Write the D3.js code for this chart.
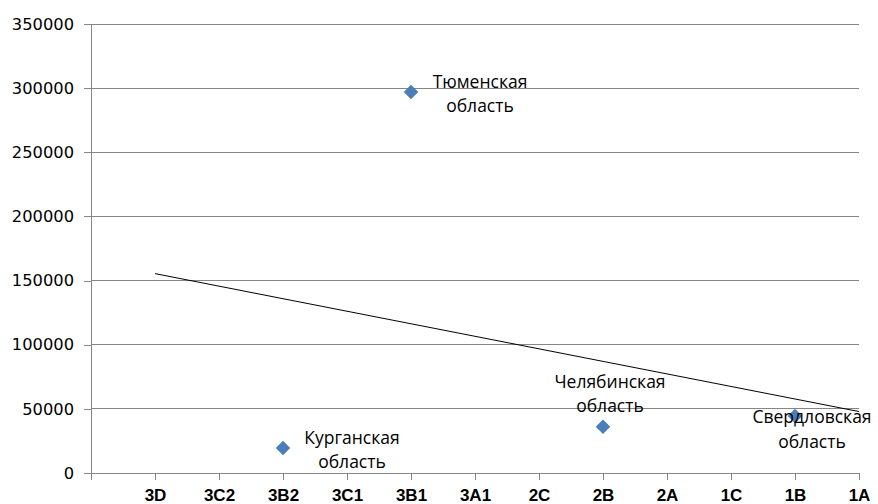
<!DOCTYPE html>
<html><head><meta charset="utf-8">
<script src="https://cdn.jsdelivr.net/npm/d3@7"></script>
<style>body{margin:0;background:#fff}svg{display:block}</style>
</head><body>
<script>
const categories = ["", "3D", "3C2", "3B2", "3C1", "3B1", "3A1", "2C", "2B", "2A", "1C", "1B", "1A"];
const regions = ["Курганская область", "Тюменская область", "Челябинская область", "Свердловская область"];
const regionCategory = ["3B2", "3B1", "2B", "1B"];
const regionValues = [19500, 297000, 36000, 44400];
const yTicks = [0, 50000, 100000, 150000, 200000, 250000, 300000, 350000];
// label offsets (dx, dy) relative to point
const labelOffsets = [[69, -4], [69, -4], [7, -39], [17, 7]];

const W = 878, H = 504;
const m = {left: 91, right: 19, top: 24, bottom: 31};
const svg = d3.select("body").append("svg").attr("width", W).attr("height", H);

const x = d3.scalePoint().domain(categories).range([m.left, W - m.right]);
const y = d3.scaleLinear().domain([0, 350000]).range([H - m.bottom, m.top]);

const grid = "#868686";
svg.append("g").selectAll("line").data(yTicks.slice(1)).join("line")
  .attr("x1", m.left).attr("x2", W - m.right)
  .attr("y1", d => y(d)).attr("y2", d => y(d))
  .attr("stroke", grid).attr("stroke-width", 1).attr("shape-rendering", "crispEdges");

const yAxis = svg.append("g").attr("transform", `translate(${m.left},0)`)
  .call(d3.axisLeft(y).tickValues(yTicks).tickSize(7).tickPadding(10).tickFormat(d3.format("d")));
yAxis.select(".domain").attr("stroke", grid).attr("shape-rendering", "crispEdges");
yAxis.selectAll(".tick line").attr("stroke", grid).attr("shape-rendering", "crispEdges");
yAxis.selectAll("text").attr("font-family", "DejaVu Sans").attr("font-size", "16.3px").attr("fill", "#000");

const xAxis = svg.append("g").attr("transform", `translate(0,${H - m.bottom})`)
  .call(d3.axisBottom(x).tickSize(7).tickPadding(8));
xAxis.select(".domain").attr("stroke", grid).attr("shape-rendering", "crispEdges");
xAxis.selectAll(".tick line").attr("stroke", grid).attr("shape-rendering", "crispEdges");
xAxis.selectAll("text").attr("font-family", "Liberation Sans").attr("font-weight", "bold")
  .attr("font-size", "17px").attr("fill", "#000").attr("dy", "0.75em");

// trendline (linear regression over category index)
const xs = regionCategory.map(c => categories.indexOf(c));
const mx = d3.mean(xs), my = d3.mean(regionValues);
let sxy = 0, sxx = 0;
xs.forEach((xi, i) => { sxy += (xi - mx) * (regionValues[i] - my); sxx += (xi - mx) ** 2; });
const slope = sxy / sxx, icpt = my - slope * mx;
const tStart = 1, tEnd = categories.length - 1;
svg.append("line")
  .attr("x1", x(categories[tStart])).attr("y1", y(icpt + slope * tStart))
  .attr("x2", x(categories[tEnd])).attr("y2", y(icpt + slope * tEnd))
  .attr("stroke", "#000").attr("stroke-width", 1);

const sym = d3.symbol().type(d3.symbolDiamond2).size(135);
svg.append("g").selectAll("path").data(regionValues).join("path")
  .attr("d", sym)
  .attr("transform", (d, i) => `translate(${x(regionCategory[i])},${y(d)})`)
  .attr("fill", "#4A7EBB");

const lg = svg.append("g").attr("font-family", "Open Sans").attr("font-size", "17.5px").attr("fill", "#000").attr("text-anchor", "middle");
regions.forEach((r, i) => {
  const px = x(regionCategory[i]) + labelOffsets[i][0];
  const py = y(regionValues[i]) + labelOffsets[i][1];
  const parts = r.split(" ");
  const t = lg.append("text").attr("x", px).attr("y", py);
  parts.forEach((p, j) => t.append("tspan").attr("x", px).attr("dy", j === 0 ? 0 : 24.5).text(p));
});
</script>
</body></html>
